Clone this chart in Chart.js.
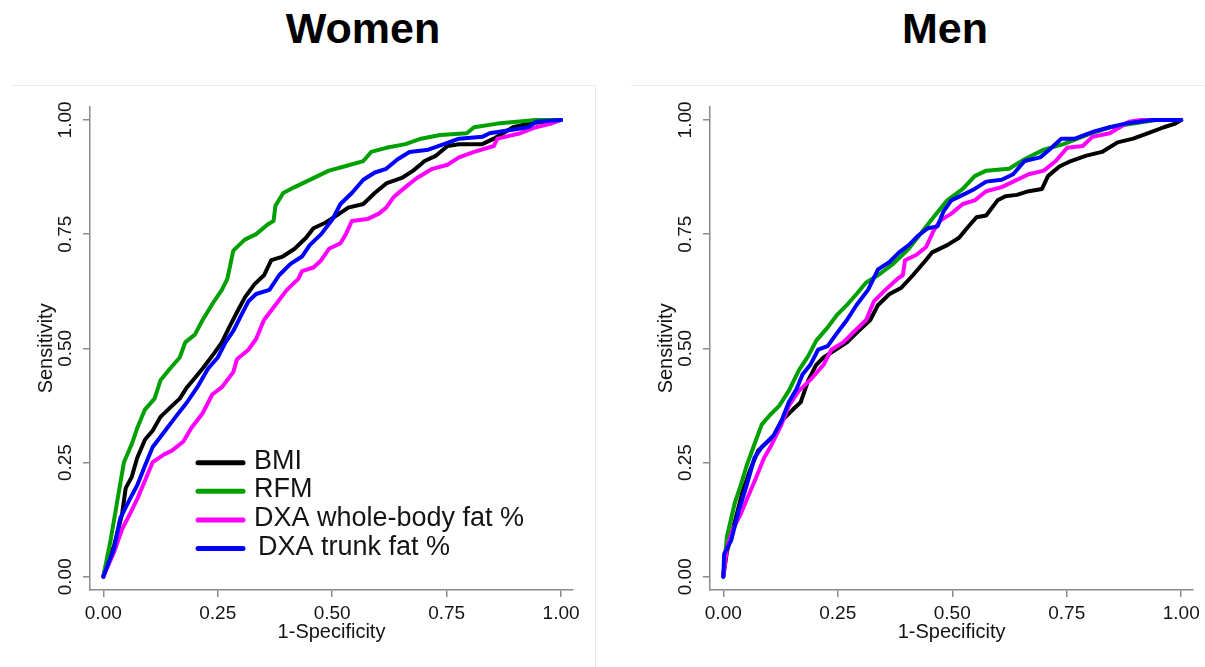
<!DOCTYPE html>
<html>
<head>
<meta charset="utf-8">
<script src="https://cdn.jsdelivr.net/npm/chart.js@4.4.1/dist/chart.umd.min.js"></script>
<style>
  html, body { margin:0; padding:0; background:#fff; }
  body { width:1205px; height:667px; overflow:hidden; position:relative; font-family:"Liberation Sans", Arial, sans-serif; }
  .title { position:absolute; top:3px; width:300px; text-align:center; font-weight:bold; font-size:43px; line-height:50px; color:#000; }
  .frame { position:absolute; border-top:1px solid #e6eded; }
  canvas { position:absolute; top:0; }
</style>
</head>
<body>
<div class="frame" style="left:11px; top:85px; width:584px; height:600px; border-right:1px solid #e6eded;"></div>
<div class="frame" style="left:631px; top:85px; width:600px; height:600px;"></div>
<div class="title" style="left:213px;">Women</div>
<div class="title" style="left:795px;">Men</div>
<canvas id="cWomen" width="600" height="667" style="left:0px;"></canvas>
<canvas id="cMen" width="585" height="667" style="left:620px;"></canvas>
<script>
// ---------------- DATA ----------------
const tickValues = [0, 0.25, 0.5, 0.75, 1];
const tickLabels = ['0.00', '0.25', '0.50', '0.75', '1.00'];
const seriesLabels = ['BMI', 'RFM', 'DXA whole-body fat %', 'DXA trunk fat %'];
const xAxisTitle = '1-Specificity';
const yAxisTitle = 'Sensitivity';

// Women
const womenBMI_x = [0, 0.024, 0.041, 0.049, 0.062, 0.074, 0.091, 0.108, 0.125, 0.15, 0.167, 0.183, 0.2, 0.217, 0.242, 0.259, 0.275, 0.292, 0.309, 0.33, 0.351, 0.367, 0.392, 0.418, 0.443, 0.459, 0.485, 0.51, 0.535, 0.568, 0.593, 0.618, 0.652, 0.677, 0.702, 0.727, 0.752, 0.777, 0.828, 0.853, 0.895, 0.928, 1];
const womenBMI_y = [0, 0.07, 0.137, 0.194, 0.218, 0.26, 0.3, 0.32, 0.35, 0.374, 0.39, 0.415, 0.435, 0.456, 0.489, 0.513, 0.546, 0.579, 0.611, 0.64, 0.66, 0.693, 0.701, 0.718, 0.742, 0.763, 0.775, 0.791, 0.808, 0.816, 0.84, 0.861, 0.873, 0.889, 0.91, 0.922, 0.943, 0.947, 0.947, 0.959, 0.984, 0.992, 1];

const womenRFM_x = [0, 0.016, 0.033, 0.045, 0.062, 0.074, 0.091, 0.112, 0.125, 0.146, 0.167, 0.179, 0.2, 0.217, 0.242, 0.259, 0.271, 0.284, 0.309, 0.334, 0.359, 0.372, 0.376, 0.393, 0.418, 0.443, 0.468, 0.493, 0.526, 0.568, 0.585, 0.618, 0.66, 0.694, 0.736, 0.794, 0.81, 0.861, 0.945, 1];
const womenRFM_y = [0, 0.08, 0.18, 0.25, 0.29, 0.325, 0.366, 0.39, 0.43, 0.456, 0.48, 0.513, 0.53, 0.562, 0.603, 0.628, 0.652, 0.714, 0.738, 0.75, 0.771, 0.779, 0.812, 0.84, 0.853, 0.865, 0.877, 0.889, 0.898, 0.91, 0.93, 0.939, 0.947, 0.959, 0.967, 0.971, 0.984, 0.992, 1, 1];

const womenWB_x = [0, 0.024, 0.041, 0.058, 0.074, 0.091, 0.108, 0.133, 0.15, 0.175, 0.192, 0.217, 0.238, 0.259, 0.284, 0.292, 0.317, 0.334, 0.351, 0.376, 0.401, 0.426, 0.434, 0.459, 0.476, 0.493, 0.518, 0.53, 0.543, 0.577, 0.602, 0.618, 0.635, 0.66, 0.685, 0.719, 0.752, 0.777, 0.81, 0.853, 0.861, 0.911, 0.945, 0.978, 1];
const womenWB_y = [0, 0.055, 0.104, 0.137, 0.17, 0.21, 0.251, 0.268, 0.276, 0.296, 0.325, 0.358, 0.399, 0.415, 0.448, 0.476, 0.497, 0.521, 0.562, 0.595, 0.628, 0.652, 0.669, 0.677, 0.693, 0.718, 0.73, 0.75, 0.779, 0.783, 0.795, 0.808, 0.832, 0.853, 0.873, 0.893, 0.902, 0.918, 0.93, 0.943, 0.959, 0.971, 0.984, 0.992, 1];

const womenTrunk_x = [0, 0.024, 0.037, 0.058, 0.074, 0.091, 0.108, 0.133, 0.158, 0.183, 0.208, 0.229, 0.25, 0.267, 0.284, 0.3, 0.317, 0.334, 0.363, 0.384, 0.409, 0.434, 0.451, 0.476, 0.501, 0.518, 0.543, 0.568, 0.593, 0.618, 0.643, 0.669, 0.71, 0.744, 0.777, 0.828, 0.844, 0.928, 0.945, 1];
const womenTrunk_y = [0, 0.063, 0.128, 0.17, 0.2, 0.243, 0.284, 0.317, 0.35, 0.382, 0.419, 0.456, 0.48, 0.513, 0.538, 0.57, 0.603, 0.619, 0.628, 0.66, 0.685, 0.701, 0.726, 0.75, 0.783, 0.816, 0.84, 0.869, 0.885, 0.893, 0.914, 0.93, 0.935, 0.947, 0.959, 0.963, 0.971, 0.984, 0.996, 1];

// Men
const menBMI_x = [0, 0.008, 0.025, 0.042, 0.059, 0.076, 0.093, 0.11, 0.127, 0.152, 0.169, 0.186, 0.203, 0.219, 0.245, 0.27, 0.295, 0.321, 0.338, 0.363, 0.388, 0.414, 0.439, 0.456, 0.489, 0.515, 0.532, 0.553, 0.574, 0.599, 0.616, 0.641, 0.667, 0.696, 0.709, 0.734, 0.759, 0.793, 0.827, 0.861, 0.895, 0.928, 0.962, 0.987, 1];
const menBMI_y = [0, 0.055, 0.12, 0.186, 0.235, 0.276, 0.292, 0.309, 0.341, 0.366, 0.382, 0.431, 0.464, 0.48, 0.497, 0.513, 0.538, 0.562, 0.595, 0.619, 0.632, 0.66, 0.689, 0.71, 0.726, 0.742, 0.763, 0.787, 0.791, 0.824, 0.833, 0.836, 0.844, 0.849, 0.877, 0.898, 0.91, 0.922, 0.93, 0.951, 0.959, 0.971, 0.984, 0.992, 1];

const menRFM_x = [0, 0.008, 0.025, 0.038, 0.051, 0.068, 0.084, 0.101, 0.122, 0.143, 0.165, 0.186, 0.203, 0.228, 0.249, 0.27, 0.291, 0.312, 0.338, 0.371, 0.405, 0.43, 0.456, 0.489, 0.523, 0.549, 0.574, 0.624, 0.658, 0.7, 0.743, 0.793, 0.844, 0.895, 0.945, 1];
const menRFM_y = [0, 0.088, 0.161, 0.2, 0.243, 0.29, 0.333, 0.353, 0.374, 0.407, 0.452, 0.484, 0.517, 0.546, 0.574, 0.595, 0.619, 0.644, 0.66, 0.685, 0.718, 0.75, 0.783, 0.824, 0.849, 0.877, 0.889, 0.893, 0.914, 0.935, 0.947, 0.967, 0.984, 0.992, 1, 1];

const menWB_x = [0, 0.008, 0.021, 0.038, 0.055, 0.072, 0.089, 0.105, 0.127, 0.143, 0.165, 0.19, 0.219, 0.236, 0.262, 0.287, 0.312, 0.329, 0.354, 0.38, 0.392, 0.397, 0.422, 0.443, 0.46, 0.473, 0.498, 0.523, 0.549, 0.574, 0.608, 0.633, 0.667, 0.7, 0.726, 0.751, 0.785, 0.806, 0.844, 0.886, 0.911, 1];
const menWB_y = [0, 0.063, 0.104, 0.137, 0.178, 0.218, 0.26, 0.288, 0.333, 0.374, 0.407, 0.431, 0.464, 0.497, 0.513, 0.538, 0.562, 0.603, 0.628, 0.652, 0.66, 0.693, 0.705, 0.722, 0.759, 0.779, 0.795, 0.816, 0.824, 0.844, 0.853, 0.865, 0.881, 0.889, 0.91, 0.939, 0.943, 0.963, 0.971, 0.996, 1, 1];

const menTrunk_x = [0, 0.002, 0.017, 0.034, 0.051, 0.068, 0.084, 0.11, 0.127, 0.143, 0.16, 0.173, 0.19, 0.207, 0.228, 0.245, 0.27, 0.291, 0.316, 0.338, 0.363, 0.384, 0.405, 0.426, 0.447, 0.468, 0.481, 0.498, 0.523, 0.549, 0.574, 0.608, 0.633, 0.658, 0.692, 0.717, 0.738, 0.768, 0.81, 0.844, 0.878, 0.937, 1];
const menTrunk_y = [0, 0.05, 0.079, 0.145, 0.2, 0.26, 0.284, 0.309, 0.341, 0.382, 0.411, 0.443, 0.464, 0.497, 0.505, 0.529, 0.562, 0.595, 0.628, 0.673, 0.689, 0.71, 0.726, 0.747, 0.763, 0.767, 0.8, 0.824, 0.836, 0.849, 0.865, 0.869, 0.881, 0.91, 0.918, 0.939, 0.959, 0.959, 0.975, 0.984, 0.992, 1, 1];

// ---------------- STYLE ----------------
const seriesColors = ['#000000', '#00a000', '#ff00ff', '#0000ff'];
const drawOrder = [3, 2, 1, 0]; // trunk on top
const FONT = '"Liberation Sans", Arial, sans-serif';
const axisGray = '#8a8a8a';
const textColor = '#141414';

function pts(xs, ys) { return xs.map((x, i) => ({ x: x, y: ys[i] })); }

const legendPlugin = {
  id: 'insideLegend',
  afterDatasetsDraw(chart, args, opts) {
    if (!opts || !opts.show) return;
    const ctx = chart.ctx;
    ctx.save();
    ctx.font = opts.fontSize + 'px ' + FONT;
    ctx.textBaseline = 'alphabetic';
    ctx.textAlign = 'left';
    chart.data.datasets.forEach((ds, i) => {
      const y = opts.top + i * opts.rowGap;
      ctx.strokeStyle = ds.borderColor;
      ctx.lineWidth = 5;
      ctx.lineCap = 'round';
      ctx.beginPath();
      ctx.moveTo(opts.lineX0, y);
      ctx.lineTo(opts.lineX1, y);
      ctx.stroke();
      ctx.fillStyle = textColor;
      ctx.fillText(ds.label, opts.textX + (opts.textShift[i] || 0), y + opts.textDy);
    });
    ctx.restore();
  }
};

function makeChart(id, series, showLegend, rightPad) {
  const datasets = series.map((s, i) => ({
    label: seriesLabels[i],
    data: pts(s[0], s[1]),
    borderColor: seriesColors[i],
    backgroundColor: seriesColors[i],
    borderWidth: 4,
    pointRadius: 0,
    tension: 0,
    fill: false,
    borderJoinStyle: 'round',
    borderCapStyle: 'round',
    order: drawOrder[i]
  }));
  return new Chart(document.getElementById(id), {
    type: 'line',
    data: { datasets: datasets },
    plugins: [legendPlugin],
    options: {
      responsive: false,
      animation: false,
      devicePixelRatio: 1,
      layout: { padding: { top: 106.7, left: 0, right: rightPad, bottom: 0 } },
      plugins: {
        legend: { display: false },
        tooltip: { enabled: false },
        insideLegend: {
          show: showLegend, fontSize: 27, top: 462.7, rowGap: 28.6,
          lineX0: 198, lineX1: 243, textX: 254, textShift: [0, 0, 0, 4], textDy: 6
        }
      },
      scales: {
        x: {
          type: 'linear',
          min: -0.029, max: 1.026,
          afterBuildTicks: (sc) => { sc.ticks = tickValues.map(v => ({ value: v })); },
          afterFit: (sc) => { sc.height = 77; },
          grid: { drawOnChartArea: false, drawTicks: true, tickLength: 7, color: axisGray, lineWidth: 1.5 },
          border: { display: true, color: axisGray, width: 1.5 },
          ticks: {
            autoSkip: false, maxRotation: 0, padding: 5,
            font: { family: FONT, size: 19 }, color: textColor,
            callback: (v, i) => tickLabels[i]
          },
          title: { display: true, text: xAxisTitle, font: { family: FONT, size: 20 }, color: textColor, padding: { top: 0, bottom: 23 } }
        },
        y: {
          type: 'linear',
          min: -0.029, max: 1.029,
          afterBuildTicks: (sc) => { sc.ticks = tickValues.map(v => ({ value: v })); },
          afterFit: (sc) => { sc.width = 90; },
          grid: { drawOnChartArea: false, drawTicks: true, tickLength: 7, color: axisGray, lineWidth: 1.5 },
          border: { display: true, color: axisGray, width: 1.5 },
          ticks: {
            autoSkip: false, minRotation: 90, maxRotation: 90, padding: -1, crossAlign: 'center',
            font: { family: FONT, size: 19 }, color: textColor,
            callback: (v, i) => tickLabels[i]
          },
          title: { display: true, text: yAxisTitle, font: { family: FONT, size: 20 }, color: textColor, padding: { top: 34, bottom: 0 } }
        }
      }
    }
  });
}

makeChart('cWomen', [
  [womenBMI_x, womenBMI_y],
  [womenRFM_x, womenRFM_y],
  [womenWB_x, womenWB_y],
  [womenTrunk_x, womenTrunk_y]
], true, 27);

makeChart('cMen', [
  [menBMI_x, menBMI_y],
  [menRFM_x, menRFM_y],
  [menWB_x, menWB_y],
  [menTrunk_x, menTrunk_y]
], false, 11.7);
</script>
</body>
</html>
